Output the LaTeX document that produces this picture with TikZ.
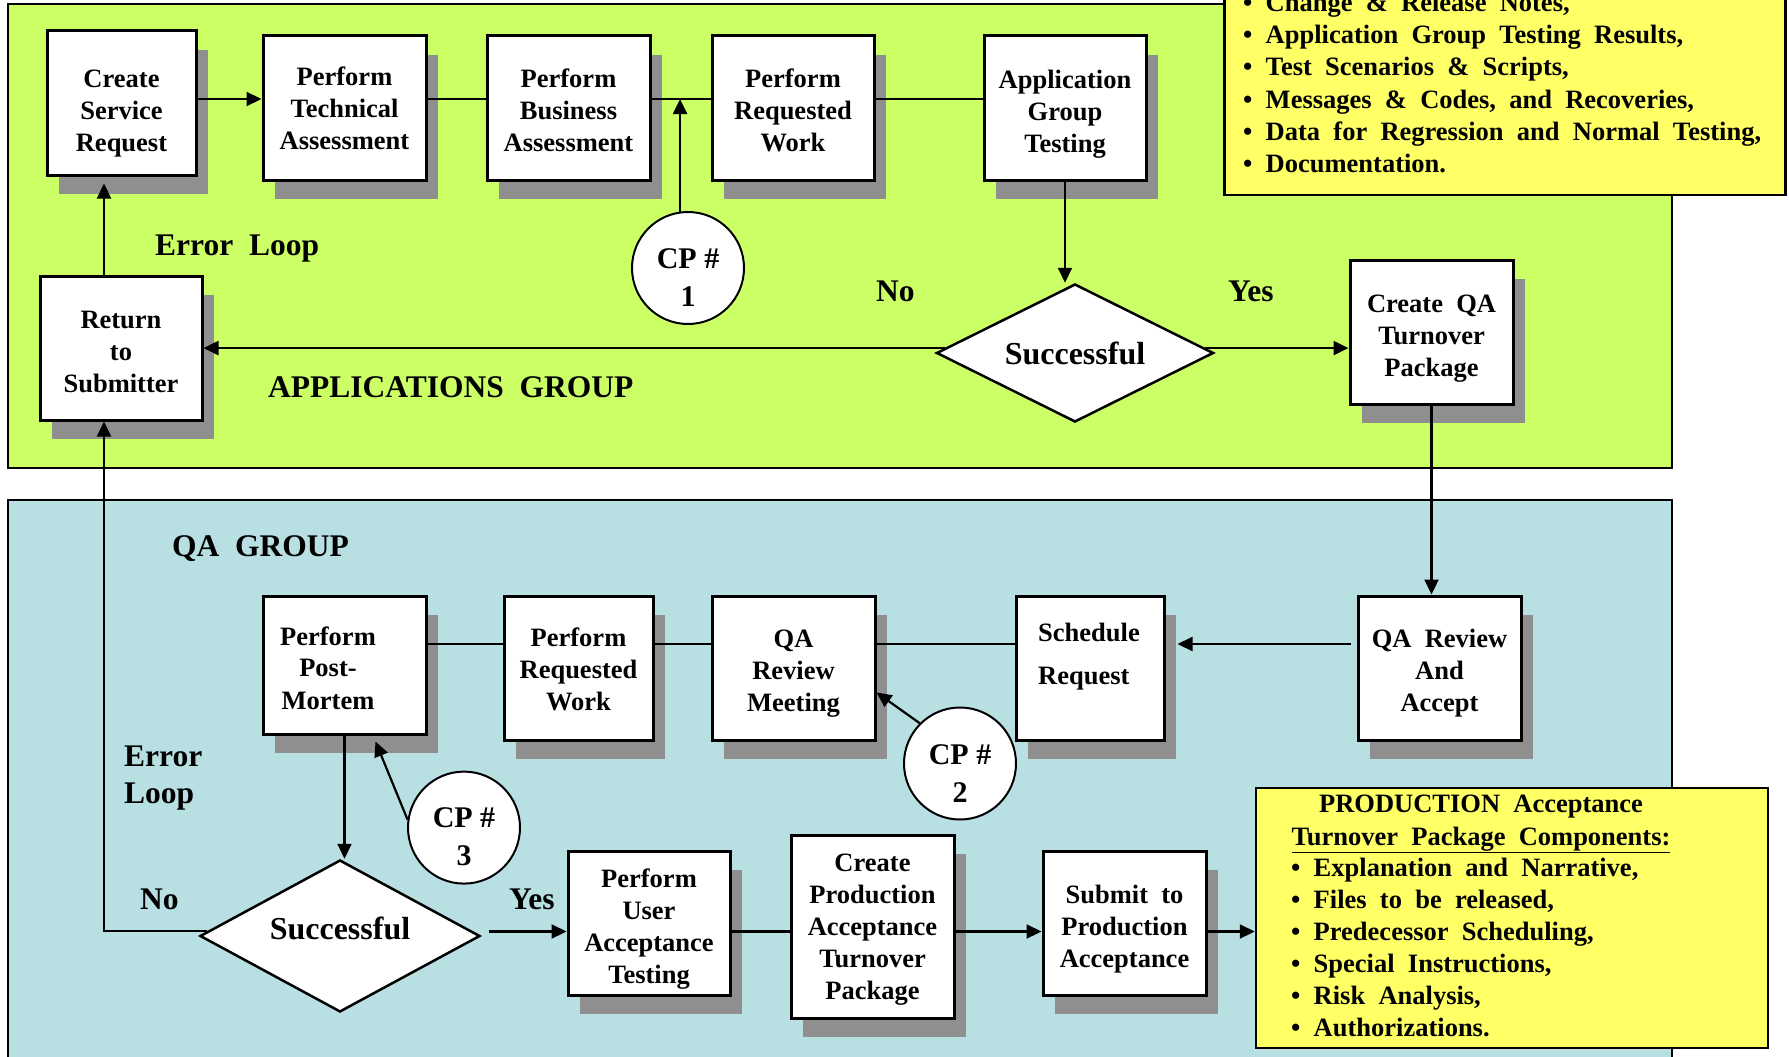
\documentclass[tikz,border=0pt]{standalone}
\usepackage{fontspec}
\setmainfont{Liberation Serif}[WordSpace=2]
\usetikzlibrary{arrows.meta,shapes.geometric,shadows,calc}
\definecolor{appgreen}{HTML}{CCFF66}
\definecolor{qablue}{HTML}{B8DFE2}
\definecolor{noteyellow}{HTML}{FFFF66}
\definecolor{shadegray}{HTML}{8F8F8F}
% invisible struts that fix the vertical placement of box captions
\newcommand\hangtop[1]{\rule{0pt}{#1pt}}
\newcommand\hangbot{\rule[-7pt]{0pt}{7pt}}
\begin{document}
\begin{tikzpicture}[x=1pt,y=-1pt,
  font=\bfseries\fontsize{26.5}{32}\selectfont,
  >={Triangle[length=15pt,width=14pt]},
  panel/.style={draw=black,line width=2.5pt},
  procbox/.style={rectangle,draw=black,fill=white,line width=3pt,inner sep=0pt,align=center,
    drop shadow={shadow xshift=12pt,shadow yshift=-19pt,fill=shadegray,opacity=1}},
  decision/.style={diamond,aspect=2,draw=black,fill=white,line width=2.5pt,inner sep=0pt,
    font=\bfseries\fontsize{32}{38}\selectfont},
  checkpt/.style={circle,draw=black,fill=white,line width=2pt,inner sep=0pt,minimum size=112pt,
    align=center,font=\bfseries\fontsize{30}{38}\selectfont},
  flow/.style={line width=2.2pt},
  lbl/.style={anchor=base west,inner sep=0pt,font=\bfseries\fontsize{31.5}{37}\selectfont},
  notebox/.style={rectangle,draw=black,fill=noteyellow,line width=2.5pt,inner sep=0pt},
  notetext/.style={anchor=base west,inner sep=0pt},
  plain/.style={anchor=base,inner sep=0pt},
]
\useasboundingbox (0,0) rectangle (1789,1057);
\clip (0,0) rectangle (1789,1057);

% swim lanes
\draw[panel,fill=appgreen] (8,4) rectangle (1672,468);
\draw[panel,fill=qablue] (8,500) rectangle (1672,1080);

% connector levels
\coordinate (rowA) at (0,99);
\coordinate (rowQ) at (0,644);
\coordinate (rowB) at (0,931.5);
\coordinate (ex) at (104,0);

% ---------------- applications group ----------------
\node[procbox,minimum width=149pt,minimum height=144pt] (csr) at (121.5,103) {\hangtop{39}Create\\Service\\Request\hangbot};
\node[procbox,minimum width=163pt,minimum height=144pt] (pta) at (344.5,108) {\hangtop{25}Perform\\Technical\\Assessment\hangbot};
\node[procbox,minimum width=163pt,minimum height=144pt] (pba) at (568.5,108) {\hangtop{30}Perform\\Business\\Assessment\hangbot};
\node[procbox,minimum width=162pt,minimum height=144pt] (prw) at (793,108) {\hangtop{30}Perform\\Requested\\Work\hangbot};
\node[procbox,minimum width=162pt,minimum height=144pt] (agt) at (1065,108) {\hangtop{31}Application\\Group\\Testing\hangbot};
\node[procbox,minimum width=162pt,minimum height=144pt] (rts) at (121,348) {\hangtop{31}Return\\to\\Submitter\hangbot};
\node[procbox,minimum width=163pt,minimum height=144pt] (cqa) at (1431.5,332) {\hangtop{31}Create QA\\Turnover\\Package\hangbot};
\node[decision,minimum width=277pt,minimum height=138pt] (dia) at (1075,353) {Successful};
\node[checkpt] (cp1) at (688,268) {\rule{0pt}{39pt}CP\hspace{0.25em}\#\\1};

\node[lbl] (errA) at (155,255.5) {Error Loop};
\node[lbl] (appg) at (268,397) {APPLICATIONS GROUP};
\node[lbl] (noA) at (876,301.5) {No};
\node[lbl] (yesA) at (1228,301.5) {Yes};

\draw[flow,->] (csr.east |- rowA) -- (pta.west |- rowA);
\draw[flow] (pta.east |- rowA) -- (pba.west |- rowA);
\draw[flow] (pba.east |- rowA) -- (prw.west |- rowA);
\draw[flow] (prw.east |- rowA) -- (agt.west |- rowA);
\draw[flow,->] (cp1.98) -- (cp1.98 |- rowA);
\draw[flow,->] (agt.south) -- (agt.south |- dia.north);
\coordinate (dL) at ($(dia.west)!0.07!(dia.north)$);
\coordinate (dR) at ($(dia.east)!0.07!(dia.north)$);
\draw[flow,->] (dL) -- (dL -| rts.east);
\draw[flow,->] (dR) -- (dR -| cqa.west);
\draw[flow,->,shorten >=7pt] (rts.north -| ex) -- (csr.south -| ex);

% ---------------- QA group ----------------
\node[procbox,minimum width=163pt,minimum height=138pt] (ppm) at (344.5,665) {};
\node[plain] (ppmA) at (328,645) {Perform};
\node[plain] (ppmB) at (328,676.5) {Post-};
\node[plain] (ppmC) at (328,709) {Mortem};
\node[procbox,minimum width=149pt,minimum height=144pt] (prw2) at (578.5,668) {\hangtop{28}Perform\\Requested\\Work\hangbot};
\node[procbox,minimum width=163pt,minimum height=144pt] (qarm) at (793.5,668) {\hangtop{30}QA\\Review\\Meeting\hangbot};
\node[procbox,minimum width=148pt,minimum height=144pt] (sr) at (1090,668) {};
\node[notetext] (srA) at (1038,641.5) {Schedule};
\node[notetext] (srB) at (1038,684) {Request};
\node[procbox,minimum width=163pt,minimum height=144pt] (qara) at (1439.5,668) {\hangtop{30}QA Review\\And\\Accept\hangbot};
\node[procbox,minimum width=162pt,minimum height=144pt] (puat) at (649,923) {\hangtop{31.5}Perform\\User\\Acceptance\\Testing\hangbot};
\node[procbox,minimum width=163pt,minimum height=183pt] (cpatp) at (872.5,926.5) {\hangtop{25}Create\\Production\\Acceptance\\Turnover\\Package\hangbot};
\node[procbox,minimum width=163pt,minimum height=144pt] (stpa) at (1124.5,923) {\hangtop{31}Submit to\\Production\\Acceptance\hangbot};
\node[decision,minimum width=280pt,minimum height=152pt] (qadia) at (340,936) {\rule{0pt}{22pt}Successful\rule[-15pt]{0pt}{15pt}};
\node[checkpt] (cp2) at (960,763.5) {\rule{0pt}{39pt}CP\hspace{0.25em}\#\\2};
\node[checkpt] (cp3) at (464,827.6) {\rule{0pt}{39pt}CP\hspace{0.25em}\#\\3};

\node[lbl] (qag) at (172,556.5) {QA GROUP};
\node[lbl] (errB1) at (124,766) {Error};
\node[lbl] (errB2) at (124,803) {Loop};
\node[lbl] (noB) at (140,909.5) {No};
\node[lbl] (yesB) at (509,909.5) {Yes};

% production acceptance note
\node[notebox,minimum width=512pt,minimum height=260pt] (prodnote) at (1512,918) {};
\node[plain] (pt1) at (1481,812.5) {PRODUCTION Acceptance};
\node[plain] (pt2) at (1481,845) {\underline{Turnover Package Components:}};
\foreach \t [count=\i] in {{Explanation and Narrative,},{Files to be released,},{Predecessor Scheduling,},{Special Instructions,},{Risk Analysis,},{Authorizations.}}
  \node[notetext] (pb\i) at (1291,{876+32*(\i-1)}) {\textbullet{} \t};

\coordinate (srE) at ([xshift=12pt]sr.east);
\coordinate (qaW) at ([xshift=-6pt]qara.west);
\draw[flow,->] (cqa.south) -- (cqa.south |- qara.north);
\draw[flow,->] (qaW |- rowQ) -- (srE |- rowQ);
\draw[flow] (sr.west |- rowQ) -- (qarm.east |- rowQ);
\draw[flow] (qarm.west |- rowQ) -- (prw2.east |- rowQ);
\draw[flow] (prw2.west |- rowQ) -- (ppm.east |- rowQ);
\draw[flow,->] (cp2.135) -- ([yshift=-24.5pt]qarm.east);
\draw[flow,->] (cp3.172) -- ([xshift=31pt,yshift=-6pt]ppm.south);
\draw[flow,->] (ppm.south) -- (ppm.south |- qadia.north);
\coordinate (qL) at ($(qadia.west)!0.06!(qadia.north)$);
\draw[flow,->] (qL) -| (ex |- rts.south);
\coordinate (qY) at ($(qadia.east)+(8,-4.5)$);
\draw[flow,->] (qY) -- (qY -| puat.west);
\draw[flow] (puat.east |- rowB) -- (cpatp.west |- rowB);
\draw[flow,->] (cpatp.east |- rowB) -- (stpa.west |- rowB);
\draw[flow,->] (stpa.east |- rowB) -- (prodnote.west |- rowB);

% deliverables note for the QA turnover package
\node[notebox,minimum width=561pt,minimum height=256pt,anchor=south west] (topnote) at (1223,196) {};
\foreach \t [count=\i] in {{Change \& Release Notes,},{Application Group Testing Results,},{Test Scenarios \& Scripts,},{Messages \& Codes, and Recoveries,},{Data for Regression and Normal Testing,},{Documentation.}}
  \node[notetext] (tn\i) at (1243,{12+32*(\i-1)}) {\textbullet{} \t};
\end{tikzpicture}
\end{document}
